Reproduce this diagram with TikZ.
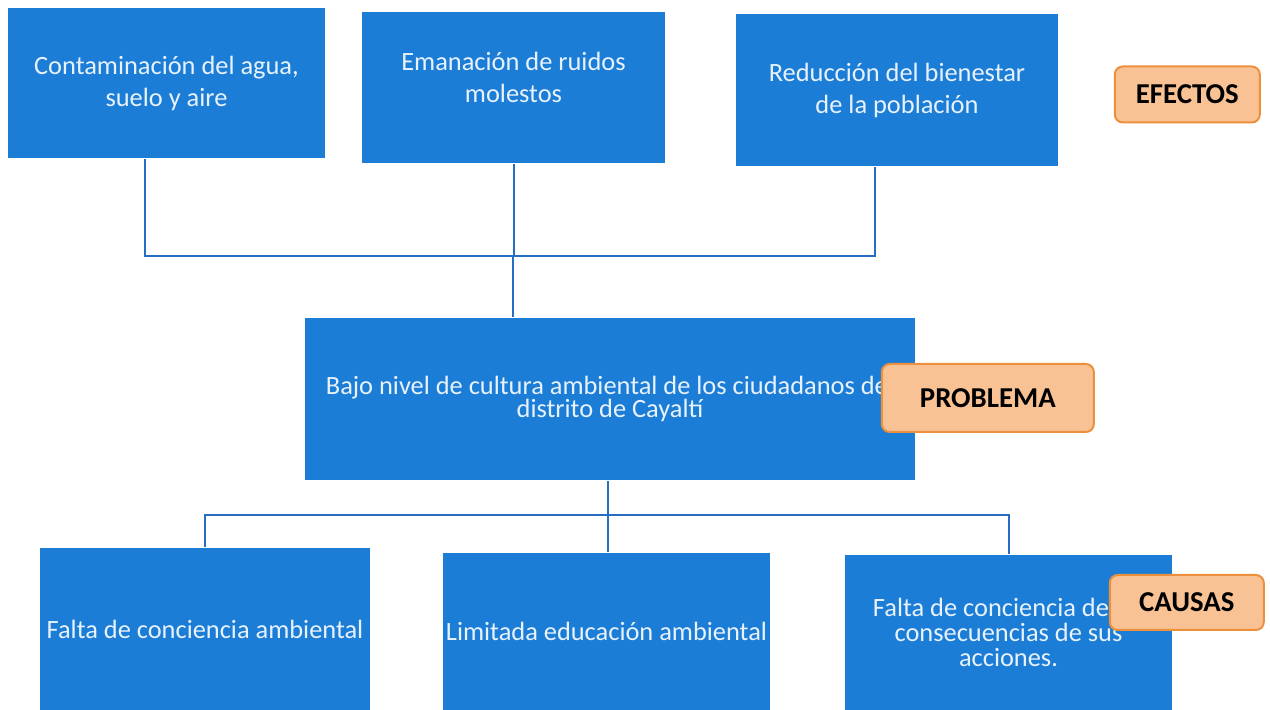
\documentclass[tikz,border=0pt]{standalone}
\usepackage{fontspec}
\setmainfont{Carlito}
\usetikzlibrary{positioning}
\definecolor{boxblue}{RGB}{28,125,214}
\definecolor{lineblue}{RGB}{40,108,196}
\definecolor{boxtext}{RGB}{232,242,252}
\definecolor{tagfill}{RGB}{249,194,148}
\definecolor{tagdraw}{RGB}{236,144,62}

\begin{document}
\begin{tikzpicture}[x=0.5pt,y=-0.5pt,thick,
  box node/.style={rectangle,fill=boxblue,text=boxtext,align=center,inner sep=0pt,
    font=\fontsize{13.2}{16}\selectfont},
  tag node/.style={rectangle,rounded corners=4pt,fill=tagfill,draw=tagdraw,line width=1pt,
    minimum height=28pt,font=\fontsize{14.4}{17}\selectfont\bfseries},
  link/.style={draw=lineblue,line width=1pt}]

  \useasboundingbox (0,0) rectangle (1270,710);

  % efectos
  \node[box node,minimum width=158.5pt,minimum height=75pt] (e1) at (166.5,83) {Contaminación del agua,\\suelo y aire};
  \node[box node,minimum width=151.5pt,minimum height=75.5pt] (e2) at (513.5,87.5) {Emanación de ruidos\\molestos\\[-6pt]\mbox{}};
  \node[box node,minimum width=161pt,minimum height=76pt] (e3) at (897,90) {Reducción del bienestar\\de la población};
  \node[tag node,minimum width=72.5pt] (efectos) [right=27.5pt of e3,yshift=-2.25pt] {EFECTOS};

  % problema
  \node[box node,minimum width=305pt,minimum height=81pt,font=\fontsize{13.2}{11.8}\selectfont] (prob) at (610,399)
    {Bajo nivel de cultura ambiental de los ciudadanos del\\distrito de Cayaltí};
  \node[tag node,minimum width=106pt,minimum height=34pt] (problema) [right=-17.5pt of prob,yshift=0.5pt] {PROBLEMA};

  % causas
  \node[box node,minimum width=165pt,minimum height=81pt] (c1) at (205,629) {Falta de conciencia ambiental};
  \node[box node,minimum width=163.5pt,minimum height=78.5pt] (c2) at (606.5,631.5) {Limitada educación ambiental};
  \node[box node,minimum width=163.5pt,minimum height=77.5pt,font=\fontsize{13.2}{12.5}\selectfont] (c3) at (1008.5,632.5)
    {Falta de conciencia de las\\consecuencias de sus\\acciones.};
  \node[tag node,minimum width=77pt,minimum height=27.5pt] (causas) [right=-32pt of c3,yshift=15pt] {CAUSAS};

  \coordinate (top bus) at (513,256);
  \coordinate (low bus) at (608,515);

  \draw[link] ([xshift=-10.75pt]e1.south) |- (top bus);
  \draw[link] ([xshift=-11pt]e3.south) |- (top bus);
  \draw[link] (e2.south) -- (e2.south |- top bus);
  \draw[link] (top bus) -- (top bus |- prob.north);

  \draw[link] (prob.south -| low bus) -- (low bus);
  \draw[link] (c1.north) |- (low bus);
  \draw[link] (c3.north) |- (low bus);
  \draw[link] (low bus) -- (low bus |- c2.north);

\end{tikzpicture}
\end{document}
